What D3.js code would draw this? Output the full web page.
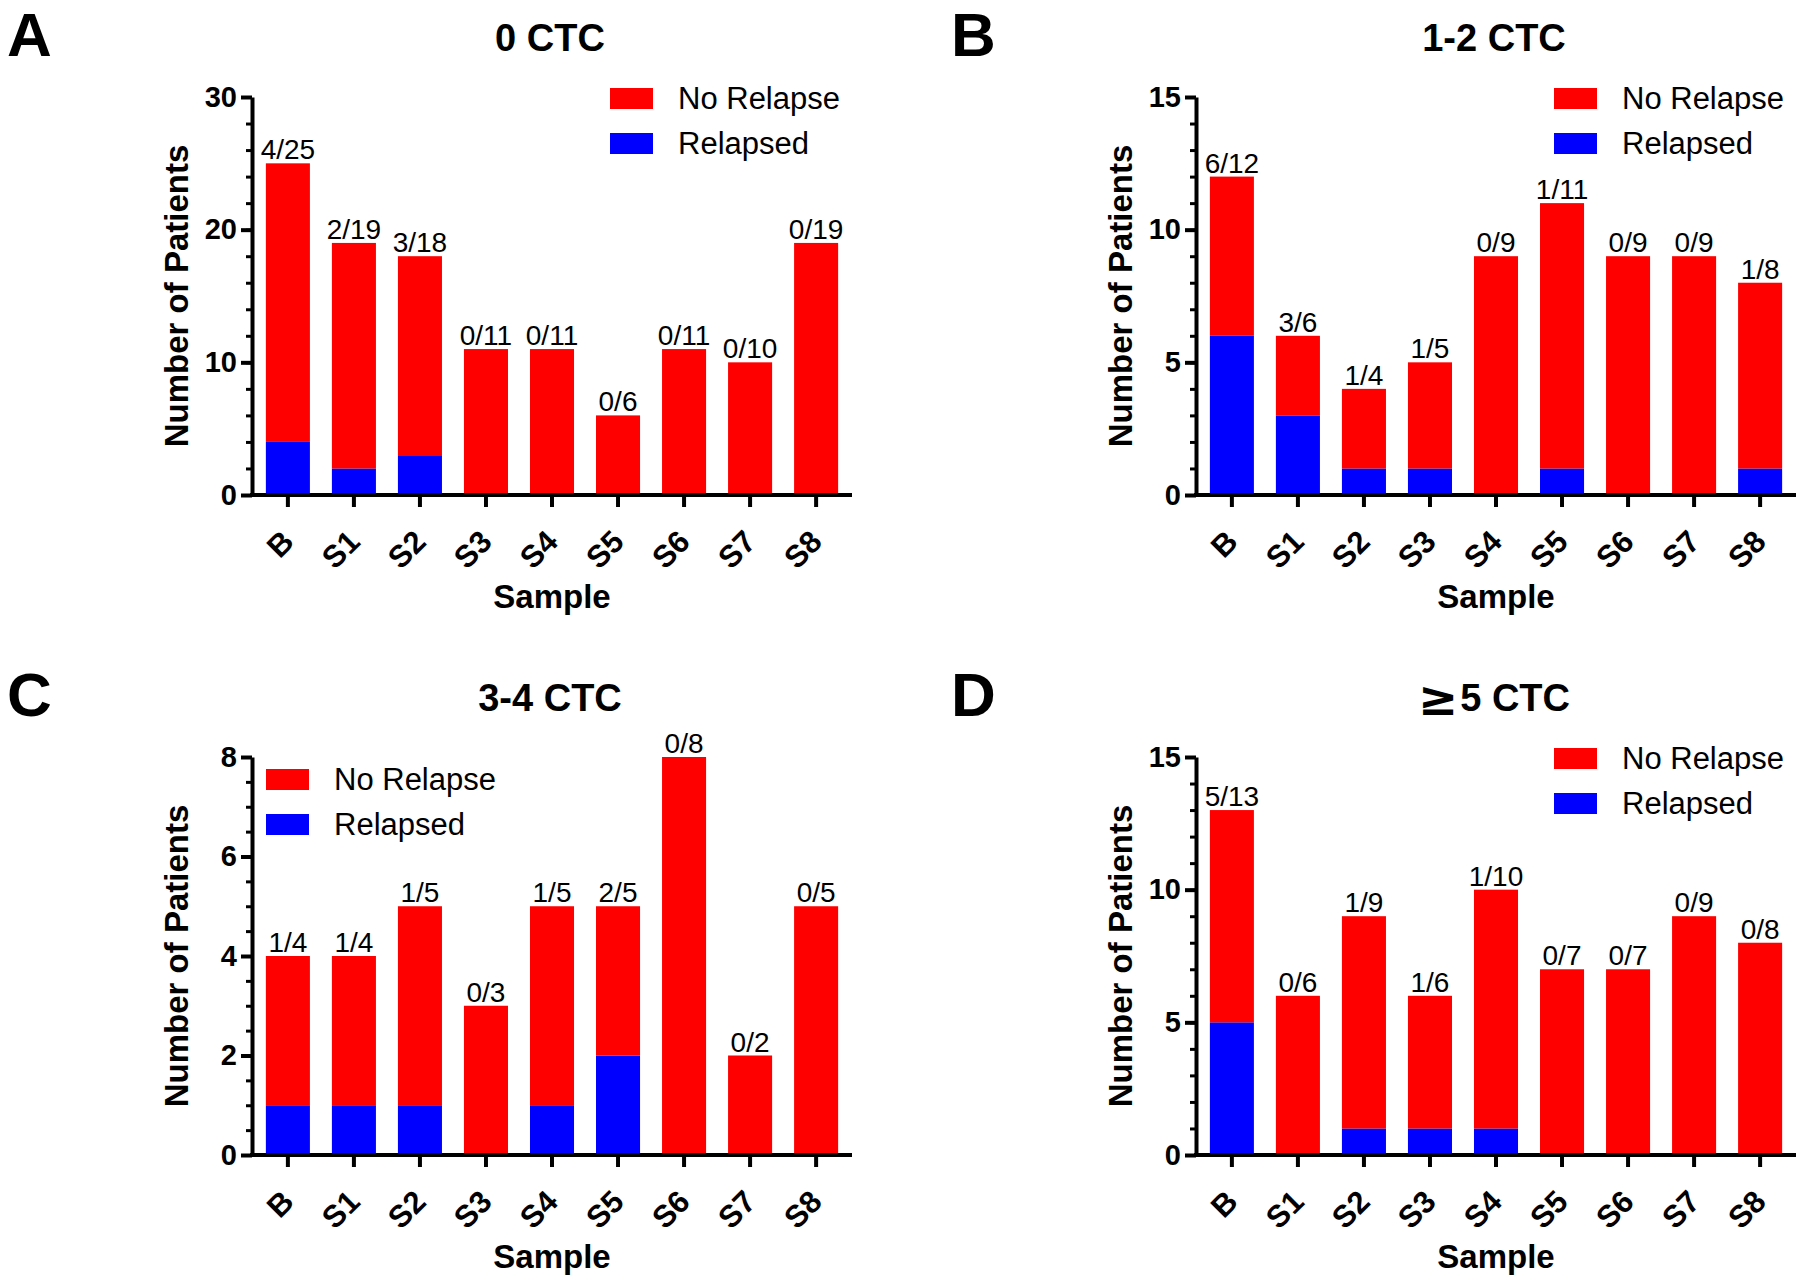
<!DOCTYPE html>
<html>
<head>
<meta charset="utf-8">
<script src="https://cdn.jsdelivr.net/npm/d3@7"></script>
<style>
  html, body { margin: 0; padding: 0; background: #fff; }
  svg { display: block; font-family: "Liberation Sans", Arial, sans-serif; }
</style>
</head>
<body>
<svg id="chart" width="1800" height="1282"></svg>
<script>
// ---------------- data ----------------
const categories = ["B", "S1", "S2", "S3", "S4", "S5", "S6", "S7", "S8"];
const panelLetters = ["A", "B", "C", "D"];
const panelTitlePrefixes = ["", "", "", "\u2265"];
const panelTitles = ["0 CTC", "1-2 CTC", "3-4 CTC", "5 CTC"];
const seriesNames = ["No Relapse", "Relapsed"];

const total0CTC    = [25, 19, 18, 11, 11, 6, 11, 10, 19];
const relapsed0CTC = [4, 2, 3, 0, 0, 0, 0, 0, 0];
const total12CTC    = [12, 6, 4, 5, 9, 11, 9, 9, 8];
const relapsed12CTC = [6, 3, 1, 1, 0, 1, 0, 0, 1];
const total34CTC    = [4, 4, 5, 3, 5, 5, 8, 2, 5];
const relapsed34CTC = [1, 1, 1, 0, 1, 2, 0, 0, 0];
const total5CTC    = [13, 6, 9, 6, 10, 7, 7, 9, 8];
const relapsed5CTC = [5, 0, 1, 1, 1, 0, 0, 0, 0];

const yMaxima = [30, 15, 8, 15];
const yMajorSteps = [10, 5, 2, 5];
const yMinorSteps = [2, 1, 0.5, 1];

const totals = [total0CTC, total12CTC, total34CTC, total5CTC];
const relapsedAll = [relapsed0CTC, relapsed12CTC, relapsed34CTC, relapsed5CTC];

// ---------------- layout ----------------
const colors = { "No Relapse": "#ff0000", "Relapsed": "#0000ff" };
const panelOffsets = [[0, 0], [944, 0], [0, 660], [944, 660]];
const plot = { left: 252, right: 852, top: 97, bottom: 495 };
const legendPos = [
  { x: 610, y: 88 }, { x: 610, y: 88 }, { x: 266, y: 109 }, { x: 610, y: 88 }
];
const FONT = "'Liberation Sans', Arial, sans-serif";

const svg = d3.select("#chart");

panelLetters.forEach((letter, p) => {
  const [ox, oy] = panelOffsets[p];
  const g = svg.append("g").attr("transform", `translate(${ox},${oy})`);

  const rows = categories.map((c, i) => ({
    cat: c,
    "Relapsed": relapsedAll[p][i],
    "No Relapse": totals[p][i] - relapsedAll[p][i],
    total: totals[p][i],
    rel: relapsedAll[p][i]
  }));

  const x = d3.scaleBand().domain(categories)
    .range([plot.left, plot.right]).paddingInner(0.333).paddingOuter(0.21);
  const y = d3.scaleLinear().domain([0, yMaxima[p]]).range([plot.bottom, plot.top]);

  // stacked bars
  const stack = d3.stack().keys(["Relapsed", "No Relapse"]);
  const layers = stack(rows);
  g.selectAll("g.layer").data(layers).join("g")
    .attr("class", "layer")
    .attr("fill", d => colors[d.key])
    .selectAll("rect").data(d => d).join("rect")
    .attr("x", d => x(d.data.cat))
    .attr("width", x.bandwidth())
    .attr("y", d => y(d[1]))
    .attr("height", d => y(d[0]) - y(d[1]));

  // annotations
  g.selectAll("text.ann").data(rows).join("text")
    .attr("class", "ann")
    .attr("x", d => x(d.cat) + x.bandwidth() / 2)
    .attr("y", d => y(d.total) - 4)
    .attr("text-anchor", "middle")
    .attr("font-size", 28)
    .attr("fill", "#000")
    .text(d => `${d.rel}/${d.total}`);

  // y axis minor ticks
  const minorVals = d3.range(0, yMaxima[p] + 1e-9, yMinorSteps[p]);
  const yMinor = g.append("g").attr("transform", `translate(${plot.left},0)`)
    .call(d3.axisLeft(y).tickValues(minorVals).tickSize(6).tickSizeOuter(0).tickFormat(""));
  yMinor.select(".domain").remove();
  yMinor.selectAll(".tick line").attr("stroke", "#000").attr("stroke-width", 3);

  // y axis major
  const majorVals = d3.range(0, yMaxima[p] + 1e-9, yMajorSteps[p]);
  const yAx = g.append("g").attr("transform", `translate(${plot.left},0)`)
    .call(d3.axisLeft(y).tickValues(majorVals).tickSize(11).tickSizeOuter(0).tickPadding(4).tickFormat(d3.format("d")));
  yAx.select(".domain").attr("stroke", "#000").attr("stroke-width", 4);
  yAx.selectAll(".tick line").attr("stroke", "#000").attr("stroke-width", 4);
  yAx.selectAll(".tick text")
    .attr("font-size", 29).attr("font-weight", "bold").attr("fill", "#000")
    .attr("font-family", FONT);

  // x axis
  const xAx = g.append("g").attr("transform", `translate(0,${plot.bottom})`)
    .call(d3.axisBottom(x).tickSize(12).tickSizeOuter(0));
  xAx.select(".domain").attr("stroke", "#000").attr("stroke-width", 4)
    .attr("d", `M${plot.left - 2},0H${plot.right}`);
  xAx.selectAll(".tick line").attr("stroke", "#000").attr("stroke-width", 4);
  xAx.selectAll(".tick text")
    .attr("font-size", 31).attr("font-weight", "bold").attr("fill", "#000")
    .attr("font-family", FONT)
    .attr("text-anchor", "end")
    .attr("x", 0).attr("y", 0).attr("dy", "0.35em")
    .attr("transform", "translate(0,41) rotate(-45)");

  // axis titles
  const cx = (plot.left + plot.right) / 2;
  g.append("text")
    .attr("transform", `translate(${plot.left - 76},${(plot.top + plot.bottom) / 2}) rotate(-90)`)
    .attr("text-anchor", "middle").attr("dy", "0.35em")
    .attr("font-size", 33).attr("font-weight", "bold")
    .text("Number of Patients");
  g.append("text")
    .attr("x", cx).attr("y", 608)
    .attr("text-anchor", "middle")
    .attr("font-size", 33).attr("font-weight", "bold")
    .text("Sample");

  // panel title and letter
  const t = g.append("text")
    .attr("x", cx - 2).attr("y", 51)
    .attr("text-anchor", "middle")
    .attr("font-size", 38).attr("font-weight", "bold");
  if (panelTitlePrefixes[p]) {
    t.append("tspan").attr("font-size", 48).attr("font-family", "'DejaVu Sans', sans-serif")
      .attr("dy", 4).text(panelTitlePrefixes[p]);
    t.append("tspan").attr("dx", 2).attr("dy", -4).text(panelTitles[p]);
  } else {
    t.text(panelTitles[p]);
  }
  g.append("text")
    .attr("x", 7).attr("y", 56)
    .attr("font-size", 62).attr("font-weight", "bold")
    .text(letter);

  // legend
  const lg = g.append("g").attr("transform", `translate(${legendPos[p].x},${legendPos[p].y})`);
  seriesNames.forEach((name, i) => {
    lg.append("rect").attr("x", 0).attr("y", i * 45).attr("width", 43).attr("height", 21)
      .attr("fill", colors[name]);
    lg.append("text").attr("x", 68).attr("y", i * 45 + 21)
      .attr("font-size", 31).attr("fill", "#000").text(name);
  });
});
</script>
</body>
</html>
